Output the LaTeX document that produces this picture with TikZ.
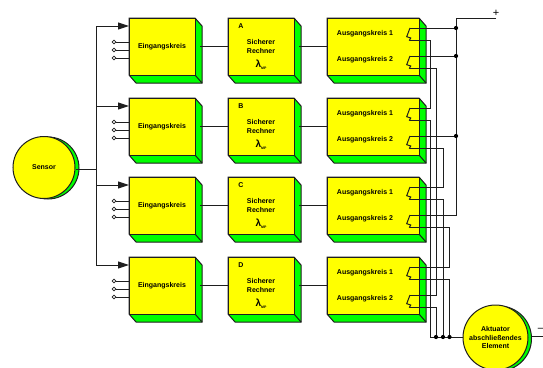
\documentclass[tikz,border=0pt]{standalone}
\usepackage{fontspec}
\setmainfont{Liberation Sans}
\usetikzlibrary{arrows.meta,calc}
\definecolor{lineink}{RGB}{30,30,30}
\definecolor{faceyellow}{RGB}{255,255,0}
\definecolor{sidegreen}{RGB}{0,255,0}
\tikzset{
  wire/.style={draw=lineink,line width=1pt},
  feed/.style={wire,-{Triangle[length=11pt,width=7pt]}},
  face/.style={draw=lineink,line width=1pt,fill=faceyellow,anchor=north west,inner sep=0pt,outer sep=0pt,minimum height=57pt,align=center,font=\labelfont},
  sideshape/.style={draw=lineink,line width=1pt,fill=sidegreen},
  tag/.style={inner sep=0pt,font=\labelfont,align=center},
  openpin/.style={circle,draw=lineink,line width=0.8pt,fill=white,inner sep=0pt,minimum size=3.8pt},
  joint/.style={circle,fill=black,inner sep=0pt,minimum size=4.2pt},
  disc/.style={circle,draw=lineink,line width=1pt,fill=faceyellow,inner sep=0pt,outer sep=0pt,align=center,font=\labelfont},
  backdisc/.style={circle,draw=lineink,line width=1pt,fill=sidegreen,inner sep=0pt,outer sep=0pt}
}
\newcommand{\labelfont}{\fontsize{7}{8.7}\selectfont\bfseries}
% #1 name, #2 x, #3 y, #4 width, #5 text
\newcommand{\blockbox}[5]{%
  \path[sideshape] (#2,#3) -- ++(#4,0) -- ++(7,8) -- ++(0,57) -- ++(-#4,0) -- ++(-7,-8) -- cycle;
  \draw[sideshape] (#2+#4,#3+57) -- ++(7,8);
  \node[face,minimum width=#4 pt] (#1) at (#2,#3) {#5};
}
% #1 suffix, #2 top y of contact
\newcommand{\contact}[2]{%
  \coordinate (up#1) at (410,#2);
  \coordinate (lo#1) at (410,#2+12.5);
  \draw[wire] (up#1) -- ++(-3.3,8.7) -- ++(4,1.3) -- ++(-1.2,2.3) -- (lo#1);
}
\begin{document}
\begin{tikzpicture}[x=1pt,y=-1pt]
\useasboundingbox (0,0) rectangle (543,367);
% sensor and actuator discs
\node[backdisc,minimum size=62pt] (sensorback) at (48,168) {};
\node[disc,minimum size=62pt] (sensor) at (44,167.5) {Sensor};
\node[backdisc,minimum size=65pt] (aktback) at (499,338.5) {};
\node[disc,minimum size=65pt] (akt) at (495.5,337.5) {Aktuator\\abschließendes\\Element};
% blocks
\foreach \n/\letter/\ytop in {1/A/18,2/B/98,3/C/177,4/D/257}{
  \blockbox{e\n}{129}{\ytop}{66}{Eingangskreis}
  \blockbox{r\n}{228}{\ytop}{66}{}
  \blockbox{o\n}{327}{\ytop}{92}{}
  \node[tag] (letter\n) at (241,\ytop+8.5) {\letter};
  \node[tag] (sr\n) at (261,\ytop+28.5) {Sicherer\\Rechner};
  \node[tag] (lam\n) at (261,\ytop+47) {{\fontsize{10}{10}\selectfont λ}\raisebox{-2pt}{\fontsize{3.5}{4}\selectfont MP}};
  \node[tag] (ak\n) at (365,\ytop+15.7) {Ausgangskreis 1};
  \node[tag] (al\n) at (365,\ytop+41.5) {Ausgangskreis 2};
  \draw[wire] ($(e\n.east)+(5,0)$) -- (r\n.west);
  \draw[wire] ($(r\n.east)+(5,0)$) -- (o\n.west);
  \foreach \k in {24,32,40}{
    \node[openpin] (pin\n-\k) at (114,\ytop+\k) {};
    \draw[wire] (pin\n-\k) -- (129,\ytop+\k);
  }
  \contact{\n a}{\ytop+10}
  \contact{\n b}{\ytop+38}
  \coordinate (feed\n) at (129,\ytop+8);
}
% sensor distribution
\coordinate (trunk) at (96,169.5);
\draw[wire] (76,169.5) -- (trunk);
\draw[wire] (96,26) -- (96,265);
\foreach \n in {1,2,3,4}{
  \draw[feed] (feed\n -| trunk) -- (feed\n);
}
% positive rail
\coordinate (plusend) at (496,18);
\node[inner sep=0pt,font=\fontsize{11}{11}\selectfont] (plus) at (496,13) {+};
\draw[wire] (plusend) -- (456,18) -- (up3b -| 456,0) -- (up3b);
\draw[wire] (up1a) -- (up1a -| 456,0) node[joint] (j1) {};
\draw[wire] (up1b) -- (up1b -| 456,0) node[joint] (j2) {};
\draw[wire] (up2b) -- (up2b -| 456,0) node[joint] (j3) {};
% series connections
\draw[wire] (lo1a) -- (lo1a -| 430,0) -- (up2a -| 430,0) -- (up2a);
\draw[wire] (lo1b) -- (lo1b -| 436,0) -- (up4b -| 436,0) -- (up4b);
\draw[wire] (lo2b) -- (lo2b -| 443,0) -- (up3a -| 443,0) -- (up3a);
\draw[wire] (lo3b) -- (lo3b -| 449.5,0) -- (up4a -| 449.5,0) -- (up4a);
% output bus
\coordinate (busstart) at (430,337);
\draw[wire] (lo2a) -- (lo2a -| busstart) -- (busstart) -- (akt.west |- busstart);
\draw[wire] (lo4b) -- (lo4b -| 436,0) -- (436,337) node[joint] (b1) {};
\draw[wire] (lo3a) -- (lo3a -| 443,0) -- (443,337) node[joint] (b2) {};
\draw[wire] (lo4a) -- (lo4a -| 449.5,0) -- (449.5,337) node[joint] (b3) {};
% negative side
\coordinate (negend) at (543,336);
\draw[wire] (aktback.east |- negend) -- (negend);
\node[inner sep=0pt,font=\fontsize{11}{11}\selectfont] (minus) at (541,329.5) {–};
\end{tikzpicture}
\end{document}
